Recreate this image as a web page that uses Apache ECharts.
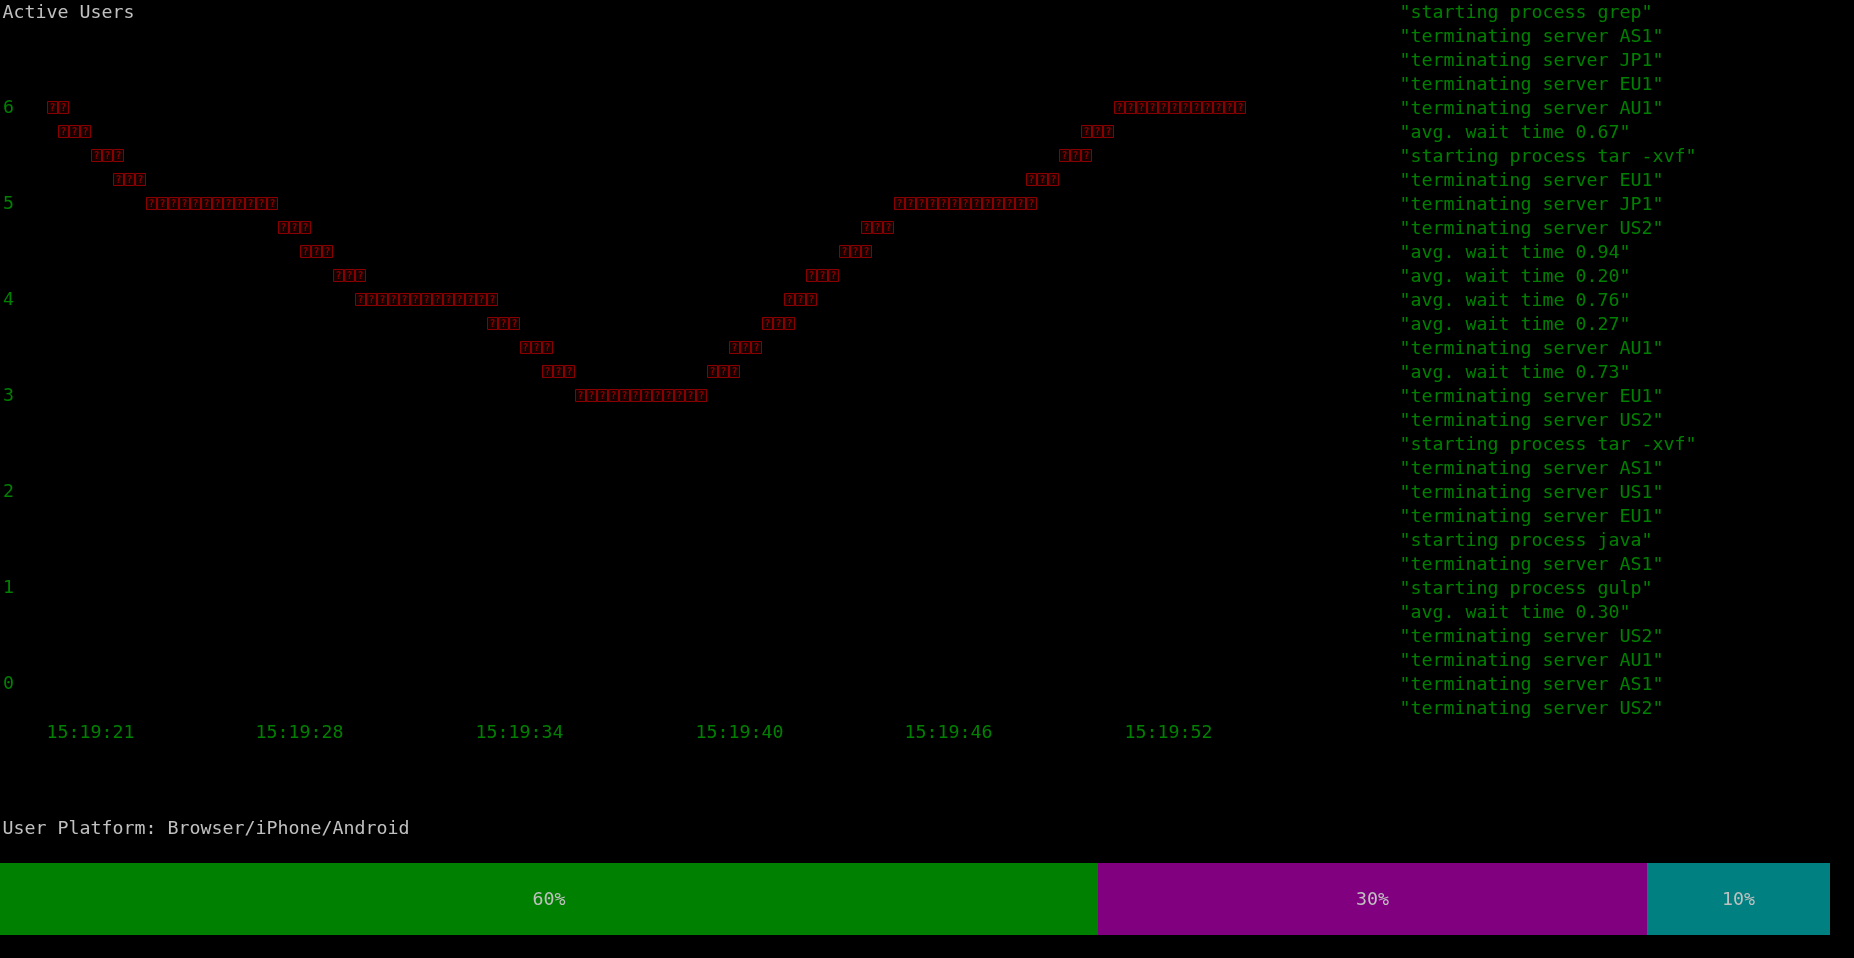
<!DOCTYPE html>
<html>
<head>
<meta charset="utf-8">
<script src="https://cdn.jsdelivr.net/npm/echarts@6/dist/echarts.min.js"></script>
<style>
html,body{margin:0;padding:0;background:#000;overflow:hidden}
#chart{width:1854px;height:958px}
</style>
</head>
<body>
<div id="chart"></div>
<script>
// ---------------- data ----------------
const lineTitle = 'Active Users';
const times = ['15:19:21','15:19:24','15:19:28','15:19:31','15:19:34','15:19:37','15:19:40','15:19:43','15:19:46','15:19:49','15:19:52','15:19:55'];
const activeUsers = [6, 5, 5, 4, 4, 3, 3, 4, 5, 5, 6, 6];
const yMin = 0, yMax = 6, yStep = 1;
const showNthTimeLabel = 2;

const logLines = [
  '"starting process grep"',
  '"terminating server AS1"',
  '"terminating server JP1"',
  '"terminating server EU1"',
  '"terminating server AU1"',
  '"avg. wait time 0.67"',
  '"starting process tar -xvf"',
  '"terminating server EU1"',
  '"terminating server JP1"',
  '"terminating server US2"',
  '"avg. wait time 0.94"',
  '"avg. wait time 0.20"',
  '"avg. wait time 0.76"',
  '"avg. wait time 0.27"',
  '"terminating server AU1"',
  '"avg. wait time 0.73"',
  '"terminating server EU1"',
  '"terminating server US2"',
  '"starting process tar -xvf"',
  '"terminating server AS1"',
  '"terminating server US1"',
  '"terminating server EU1"',
  '"starting process java"',
  '"terminating server AS1"',
  '"starting process gulp"',
  '"avg. wait time 0.30"',
  '"terminating server US2"',
  '"terminating server AU1"',
  '"terminating server AS1"',
  '"terminating server US2"'
];

const platformTitle = 'User Platform: Browser/iPhone/Android';
const platforms = ['Browser', 'iPhone', 'Android'];
const platformShares = [60, 30, 10];

// ---------------- style ----------------
const FONT = '"DejaVu Sans Mono", "Liberation Mono", monospace';
const FS = 18.27;
const CELL_W = 11, CELL_H = 24, ORIGIN_X = 2.5, ORIGIN_Y = 0, DOT_OY = 2.4;
const GREEN = '#008000', GRAY = '#c0c0c0', DARKRED = '#8a0000';
const platformColors = ['#008000', '#800080', '#008080'];

// terminal braille-style renderer: each segment is rasterised on a 2x4 dot grid per
// character cell, and every touched cell is painted as a missing-glyph box.
function renderTofuLine(params, api) {
  const i = params.dataIndex;
  const children = [];
  const dw = CELL_W / 2, dh = CELL_H / 4;
  const a = api.coord([i, activeUsers[i]]);
  if (i % showNthTimeLabel === 0) {
    const base = api.coord([i, yMin]);
    const col = Math.floor((a[0] - ORIGIN_X) / dw / 2);
    children.push({
      type: 'text',
      style: {
        text: times[i], x: ORIGIN_X + col * CELL_W, y: base[1] + 2 * CELL_H + 1,
        fill: GREEN, font: FS + 'px ' + FONT,
        align: 'left', verticalAlign: 'middle', textAlign: 'left', textVerticalAlign: 'middle'
      }
    });
  }
  if (i >= activeUsers.length - 1) return {type: 'group', children};
  const b = api.coord([i + 1, activeUsers[i + 1]]);
  const X0 = (a[0] - ORIGIN_X) / dw, Y0 = (a[1] - DOT_OY) / dh;
  const X1 = (b[0] - ORIGIN_X) / dw, Y1 = (b[1] - DOT_OY) / dh;
  const n = Math.max(Math.abs(X1 - X0), Math.abs(Y1 - Y0));
  const steps = Math.floor(n + 1e-6);
  const cells = new Map();
  const add = (x, y) => {
    const c = Math.floor(Math.floor(x + 1e-6) / 2), r = Math.floor(Math.floor(y + 1e-6) / 4);
    cells.set(c + ',' + r, [c, r]);
  };
  for (let k = 0; k <= steps; k++) {
    const t = n === 0 ? 0 : k / n;
    add(X0 + (X1 - X0) * t, Y0 + (Y1 - Y0) * t);
  }
  add(X1, Y1);
  cells.forEach(([c, r]) => {
    const bx = Math.round(ORIGIN_X + c * CELL_W) + 0.5;
    const by = Math.round(ORIGIN_Y + r * CELL_H + 5) + 0.5;
    const bw = 10, bh = 12;
    children.push({
      type: 'rect',
      shape: {x: bx, y: by, width: bw, height: bh},
      style: {fill: '#160000', stroke: DARKRED, lineWidth: 1}
    });
    children.push({
      type: 'text',
      style: {
        text: '?', x: bx + bw / 2, y: by + bh / 2 + 0.5,
        fill: DARKRED, font: 'bold 10px "DejaVu Sans Mono", monospace',
        align: 'center', verticalAlign: 'middle',
        textAlign: 'center', textVerticalAlign: 'middle'
      }
    });
  });
  return {type: 'group', children};
}

const chart = echarts.init(document.getElementById('chart'), null, {renderer: 'canvas'});

const graphics = [];
graphics.push({
  type: 'text', x: ORIGIN_X, y: 13,
  style: {text: lineTitle, fill: GRAY, font: FS + 'px ' + FONT, verticalAlign: 'middle', textVerticalAlign: 'middle'}
});
graphics.push({
  type: 'text', x: ORIGIN_X, y: 34 * CELL_H + 13,
  style: {text: platformTitle, fill: GRAY, font: FS + 'px ' + FONT, verticalAlign: 'middle', textVerticalAlign: 'middle'}
});
logLines.forEach((t, r) => {
  graphics.push({
    type: 'text', x: ORIGIN_X + 127 * CELL_W, y: r * CELL_H + 13,
    style: {text: t, fill: GREEN, font: FS + 'px ' + FONT, verticalAlign: 'middle', textVerticalAlign: 'middle'}
  });
});

const X_FIRST = ORIGIN_X + 8.05 * (CELL_W / 2);
const X_STEP = 19.7 * (CELL_W / 2);

const option = {
  backgroundColor: '#000000',
  animation: false,
  grid: [
    {left: X_FIRST, top: 108, width: X_STEP * (times.length - 1), height: 576, containLabel: false},
    {left: 0, top: 863, width: 1830, height: 72, containLabel: false}
  ],
  xAxis: [
    {
      type: 'category', gridIndex: 0, data: times, boundaryGap: false,
      axisLine: {show: false}, axisTick: {show: false}, splitLine: {show: false},
      axisLabel: {show: false}
    },
    {type: 'value', gridIndex: 1, min: 0, max: 100, show: false}
  ],
  yAxis: [
    {
      type: 'value', gridIndex: 0, min: yMin, max: yMax, interval: yStep,
      axisLine: {show: false}, axisTick: {show: false}, splitLine: {show: false},
      axisLabel: {color: GREEN, fontFamily: FONT, fontSize: FS, align: 'left', verticalAlign: 'middle', margin: X_FIRST - ORIGIN_X}
    },
    {type: 'category', gridIndex: 1, data: ['platform'], show: false}
  ],
  series: [
    {
      type: 'custom', name: lineTitle, xAxisIndex: 0, yAxisIndex: 0,
      data: activeUsers.map((v, i) => [i, v]),
      encode: {x: 0, y: 1},
      renderItem: renderTofuLine,
      clip: false,
      silent: true
    }
  ].concat(platforms.map((name, k) => ({
    type: 'bar', name, stack: 'platform', xAxisIndex: 1, yAxisIndex: 1,
    data: [platformShares[k]], barWidth: 72, silent: true,
    itemStyle: {color: platformColors[k]},
    label: {show: true, position: 'inside', formatter: '{c}%', color: GRAY, fontFamily: FONT, fontSize: FS, offset: [0, 1]}
  }))),
  graphic: graphics
};
chart.setOption(option);
</script>
</body>
</html>
